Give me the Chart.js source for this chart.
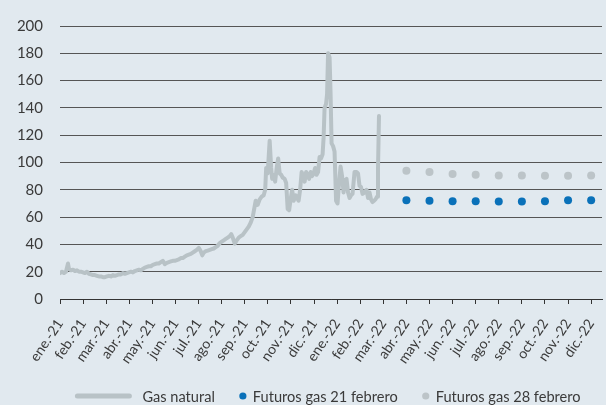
<!DOCTYPE html>
<html>
<head>
<meta charset="utf-8">
<script src="https://cdn.jsdelivr.net/npm/chart.js@4"></script>
<style>
  html, body { margin: 0; padding: 0; background: #e1e9ef; }
  #wrap { width: 606px; height: 405px; position: relative; }
</style>
</head>
<body>
<div id="wrap"><canvas id="c" width="606" height="405"></canvas></div>
<script>
const monthLabels = ['ene.-21','feb.-21','mar.-21','abr.-21','may.-21','jun.-21','jul.-21','ago.-21','sep.-21','oct.-21','nov.-21','dic.-21',
  'ene.-22','feb.-22','mar.-22','abr.-22','may.-22','jun.-22','jul.-22','ago.-22','sep.-22','oct.-22','nov.-22','dic.-22'];
const yTicks = [0,20,40,60,80,100,120,140,160,180,200];

// Gas natural: x in months since ene.-21 (fractional), y in €/MWh
const gasX = [0,0.086,0.173,0.259,0.346,0.389,0.476,0.562,0.649,0.735,0.821,0.908,0.994,1.081,1.167,1.254,1.340,1.427,1.513,1.600,
  1.686,1.773,1.859,1.946,2.032,2.118,2.205,2.291,2.378,2.464,2.551,2.637,2.724,2.810,2.897,2.983,3.070,3.156,3.243,3.329,
  3.416,3.502,3.588,3.675,3.761,3.848,3.934,4.021,4.107,4.194,4.280,4.367,4.453,4.540,4.626,4.713,4.799,4.885,4.972,5.058,
  5.145,5.231,5.318,5.404,5.491,5.577,5.664,5.750,5.837,5.923,6.010,6.096,6.161,6.226,6.312,6.399,6.485,6.572,6.658,6.745,
  6.831,6.918,7.004,7.090,7.177,7.263,7.350,7.415,7.480,7.566,7.653,7.739,7.825,7.912,7.998,8.085,8.171,8.258,8.344,8.409,
  8.474,8.560,8.647,8.733,8.820,8.885,8.928,8.993,9.079,9.144,9.187,9.252,9.317,9.382,9.447,9.512,9.577,9.641,9.728,9.793,
  9.858,9.923,9.987,10.052,10.117,10.204,10.268,10.333,10.398,10.463,10.528,10.593,10.657,10.722,10.787,10.852,10.917,10.982,11.046,11.111,
  11.176,11.241,11.306,11.371,11.414,11.457,11.522,11.565,11.608,11.673,11.717,11.760,11.825,11.889,11.954,12.019,12.084,12.149,12.214,12.279,
  12.343,12.408,12.473,12.538,12.603,12.668,12.754,12.841,12.905,12.970,13.035,13.100,13.187,13.273,13.338,13.403,13.468,13.532,13.597,13.662,
  13.727,13.770,13.813];
const gasY = [19,20,19,20,26,22,21,21.5,20.5,21,20,20,19.5,19,20,18.5,18,17.5,17.5,17,
  16.5,16.5,16,16,16.5,17,16.5,17.5,17,17.5,18,18,19,18.5,19,19.5,20,19.5,20.5,21,
  21.5,21,22,23,23.5,24,24,25,25.5,26,26,27,28,25.5,26.5,27,27.5,28,28,28.5,
  29,30,30,31,32,32.5,33,34,35,36,37.5,35,32,34,35,35.5,36,36.5,37,38,
  39,41,42,43,44,45,46,47.5,45,40.5,43,45,46,47,49,51,53,56,60,66,
  72,69,73,75,76,80,96,92,116,96,88,91,86,96,103,92,91,89,88,85,
  66,65,73,80,72,76,74,72,80,93,90,86,93,91,88,93,90,92,96,91,
  93,104,103,106,118,140,143,150,180,177,150,114,112,108,72,70,85,97,90,78,
  87,88,78,74,76,77,93,93,92,83,82,77,78,80,74,78,73,71,72,73,
  75,95,134];

// Futures (month index of delivery)
const futX = [15,16,17,18,19,20,21,22,23];
const fut21 = [72.4,71.9,71.7,71.7,71.4,71.4,71.7,72.4,72.4];
const fut28 = [94,93,91.5,91,90.5,90.5,90.3,90.3,90.5];

const seriesNames = ['Gas natural','Futuros gas 21 febrero','Futuros gas 28 febrero'];
const GAS = '#b8c2c6', BLUE = '#0a71b9', GREY = '#bcc4c8', TXT = '#3a3a3a', GRID = '#555555';
const FONT = 'Lato, "Open Sans", sans-serif';

const pts = (xs, ys) => xs.map((x, i) => ({x, y: ys[i]}));

const legendPlugin = {
  id: 'customLegend',
  afterDraw(chart) {
    const ctx = chart.ctx;
    const ca = chart.chartArea;
    const y = 396;
    ctx.save();
    ctx.font = '14.6px ' + FONT;
    ctx.textBaseline = 'middle';
    const items = chart.data.datasets.map((ds, i) => ({
      text: ds.label,
      line: i === 0,
      color: i === 0 ? ds.borderColor : ds.backgroundColor,
      markerW: i === 0 ? 56 : 8,
      gap: i === 0 ? 11 : 6
    }));
    const itemGap = 24;
    let total = 0;
    items.forEach((it, i) => { it.tw = ctx.measureText(it.text).width; total += it.markerW + it.gap + it.tw + (i ? itemGap : 0); });
    let x = (ca.left + ca.right) / 2 - 3 - total / 2;
    items.forEach((it, i) => {
      if (i) x += itemGap;
      if (it.line) {
        ctx.strokeStyle = it.color; ctx.lineWidth = 5; ctx.lineCap = 'round';
        ctx.beginPath(); ctx.moveTo(x + 2, y); ctx.lineTo(x + it.markerW - 2, y); ctx.stroke();
      } else {
        ctx.fillStyle = it.color;
        ctx.beginPath(); ctx.arc(x + it.markerW / 2, y, 3.6, 0, Math.PI * 2); ctx.fill();
      }
      x += it.markerW + it.gap;
      ctx.fillStyle = TXT;
      ctx.fillText(it.text, x, y + 1);
      x += it.tw;
    });
    ctx.restore();
  }
};

new Chart(document.getElementById('c'), {
  type: 'line',
  data: {
    datasets: [
      { label: seriesNames[0], data: pts(gasX, gasY), borderColor: GAS, backgroundColor: GAS, borderWidth: 4,
        pointRadius: 0, tension: 0, borderJoinStyle: 'round', borderCapStyle: 'round', order: 1 },
      { label: seriesNames[1], data: pts(futX, fut21), showLine: false, pointRadius: 4, pointBackgroundColor: BLUE,
        pointBorderWidth: 0, backgroundColor: BLUE, borderColor: BLUE, order: 2 },
      { label: seriesNames[2], data: pts(futX, fut28), showLine: false, pointRadius: 4, pointBackgroundColor: GREY,
        pointBorderWidth: 0, backgroundColor: GREY, borderColor: GREY, order: 3 }
    ]
  },
  options: {
    responsive: false,
    animation: false,
    layout: { padding: { top: 15, right: 3, bottom: 36, left: 0 } },
    plugins: { legend: { display: false }, tooltip: { enabled: false } },
    scales: {
      x: {
        type: 'linear', min: 0, max: 23.47,
        afterBuildTicks(scale) { scale.ticks = monthLabels.map((_, i) => ({ value: i })); },
        afterFit(scale) { scale.height = 70; scale.paddingLeft = 0; scale.paddingRight = 0; },
        ticks: {
          autoSkip: false, minRotation: 56, maxRotation: 56, padding: 12,
          color: TXT, font: { family: FONT, size: 14 },
          callback: (v) => monthLabels[v]
        },
        grid: { drawOnChartArea: false, drawTicks: true, tickLength: 5, color: '#333' },
        border: { display: true, color: '#333', width: 1 }
      },
      y: {
        min: 0, max: 200,
        afterBuildTicks(scale) { scale.ticks = yTicks.map(v => ({ value: v })); },
        afterFit(scale) { scale.width = 60; },
        ticks: { color: TXT, font: { family: FONT, size: 15 }, padding: 17 },
        grid: { color: GRID, lineWidth: 1, drawTicks: false },
        border: { display: false }
      }
    }
  },
  plugins: [legendPlugin]
});
</script>
</body>
</html>
